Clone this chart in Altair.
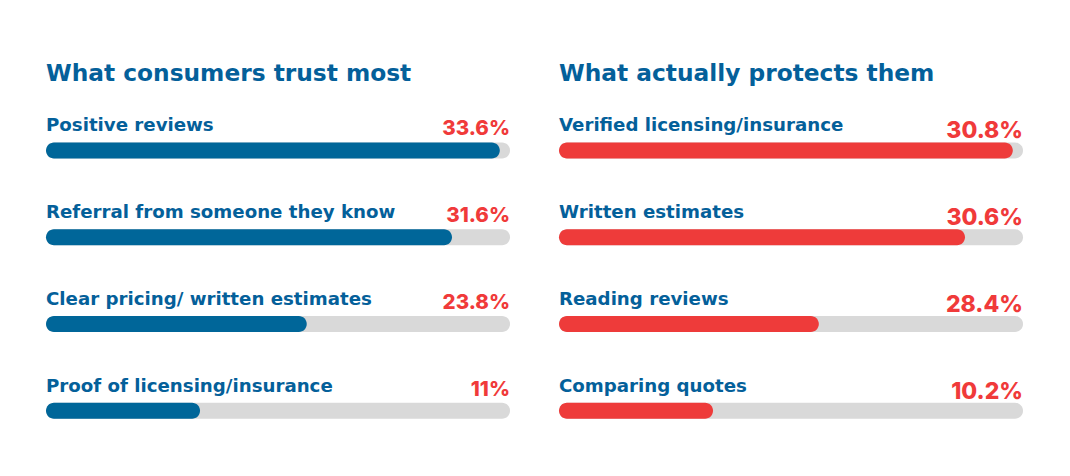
import altair as alt
import pandas as pd

# left panel: what consumers trust
trust_labels = ["Positive reviews", "Referral from someone they know",
                "Clear pricing/ written estimates", "Proof of licensing/insurance"]
trust_values = [33.6, 31.6, 23.8, 11.0]
trust_fill = [0.978, 0.875, 0.562, 0.332]  # bar lengths as drawn (share of track)

# right panel: what protects them
protect_labels = ["Verified licensing/insurance", "Written estimates",
                  "Reading reviews", "Comparing quotes"]
protect_values = [30.8, 30.6, 28.4, 10.2]
protect_fill = [0.978, 0.875, 0.560, 0.332]

BLUE = "#006699"
TEXT_BLUE = "#04609a"
RED = "#ee3b3a"
RED_TEXT = "#f03a3a"
TRACK = "#d9d9d9"
LABEL_FONT = "DejaVu Sans"
NUM_FONT = "Inter"


def make_panel(title, labels, values, fill, bar_color, value_size, value_dy):
	df = pd.DataFrame({
		'row': list(range(len(labels))),
		'label': labels,
		'value': [f"{v:g}%" for v in values],
		'fill': fill,
		'start': 0.0,
		'end': 1.0,
	})

	x_scale = alt.Scale(domain=[0, 1], nice=False)
	y_enc = alt.Y('row:Q', scale=alt.Scale(domain=[-0.5, 3.5], reverse=True, nice=False,
										   zero=False, padding=0),
				  axis=None)
	base = alt.Chart(df).encode(y=y_enc)

	track = base.mark_bar(color=TRACK, cornerRadius=8, size=16).encode(
		x=alt.X('start:Q', scale=x_scale, axis=None),
		x2='end:Q'
	)
	bars = base.mark_bar(color=bar_color, cornerRadius=8, size=16).encode(
		x=alt.X('start:Q', scale=x_scale, axis=None),
		x2='fill:Q'
	)
	names = base.mark_text(
		align='left', baseline='alphabetic', dy=-19,
		font=LABEL_FONT, fontSize=18.2, fontWeight='bold', color=TEXT_BLUE
	).encode(
		x=alt.X('start:Q', scale=x_scale, axis=None),
		text='label:N'
	)
	nums = base.mark_text(
		align='right', baseline='alphabetic', dy=value_dy,
		font=NUM_FONT, fontSize=value_size, fontWeight=800, color=RED_TEXT
	).encode(
		x=alt.X('end:Q', scale=x_scale, axis=None),
		text='value:N'
	)

	return alt.layer(track, bars, names, nums).properties(
		width=464, height=347,
		title=alt.TitleParams(title, anchor='start', font=LABEL_FONT, fontSize=23.3,
							  fontWeight='bold', color=TEXT_BLUE, offset=21)
	)


left = make_panel("What consumers trust most", trust_labels, trust_values, trust_fill,
				  BLUE, 20.5, -15)
right = make_panel("What actually protects them", protect_labels, protect_values, protect_fill,
				   RED, 23, -12)

chart = alt.hconcat(left, right, spacing=49).properties(
	background='white',
	padding={"left": 38, "top": 53, "right": 10, "bottom": 10}
).configure_view(stroke=None)

chart.save("out.html", embed_options={"renderer": "svg", "actions": False})
